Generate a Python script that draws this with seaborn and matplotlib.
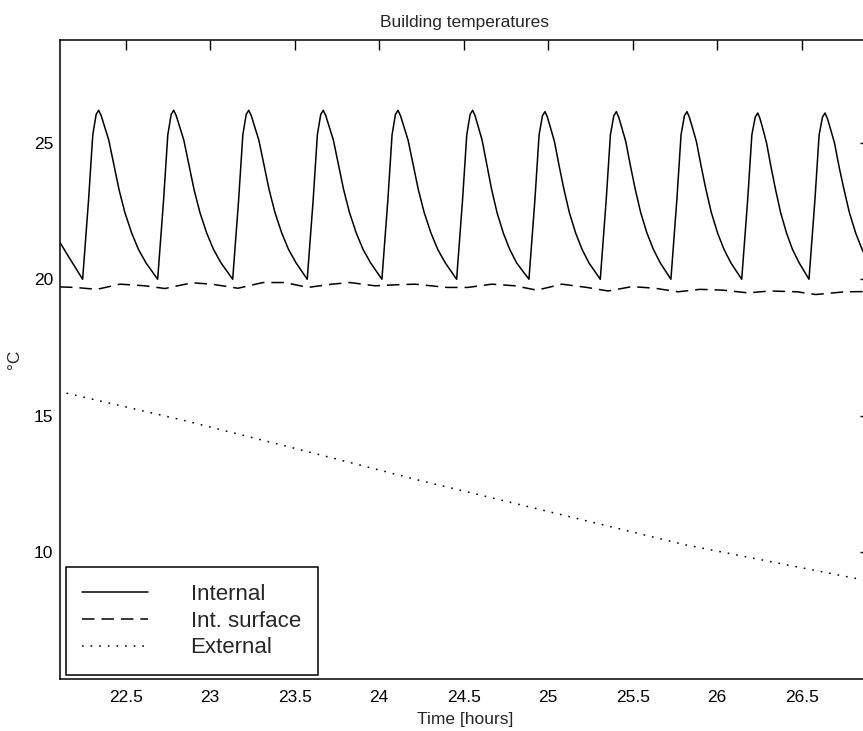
"""
Building temperatures: internal air, internal surface and external temperature
over time, redrawn from a MATLAB-style figure.
"""

import matplotlib

matplotlib.use("Agg")

import matplotlib.pyplot as plt
import pandas as pd
import seaborn as sns

# -----------------------------------------------------------------------------
# Data
# -----------------------------------------------------------------------------
internal_time = [
    22.111, 22.150, 22.190,
    22.245, 22.280, 22.305, 22.325, 22.340, 22.355, 22.375, 22.400, 22.430, 22.460, 22.495, 22.535, 22.575, 22.620,
    22.689, 22.724, 22.749, 22.769, 22.784, 22.799, 22.819, 22.844, 22.874, 22.904, 22.939, 22.979, 23.019, 23.064,
    23.133, 23.168, 23.193, 23.213, 23.228, 23.243, 23.263, 23.288, 23.318, 23.348, 23.383, 23.423, 23.463, 23.508,
    23.574, 23.609, 23.634, 23.654, 23.669, 23.684, 23.704, 23.729, 23.759, 23.789, 23.824, 23.864, 23.904, 23.949,
    24.016, 24.051, 24.076, 24.096, 24.111, 24.126, 24.146, 24.171, 24.201, 24.231, 24.266, 24.306, 24.346, 24.391,
    24.458, 24.493, 24.518, 24.538, 24.553, 24.567, 24.586, 24.609, 24.637, 24.665, 24.697, 24.734, 24.772, 24.813,
    24.886, 24.921, 24.946, 24.966, 24.981, 24.995, 25.014, 25.037, 25.065, 25.093, 25.125, 25.162, 25.200, 25.241,
    25.308, 25.343, 25.368, 25.388, 25.403, 25.417, 25.436, 25.459, 25.487, 25.515, 25.547, 25.584, 25.622, 25.663,
    25.726, 25.761, 25.786, 25.806, 25.821, 25.835, 25.854, 25.877, 25.905, 25.933, 25.965, 26.002, 26.040, 26.081,
    26.145, 26.180, 26.205, 26.225, 26.240, 26.253, 26.271, 26.292, 26.319, 26.345, 26.375, 26.410, 26.445, 26.485,
    26.543, 26.578, 26.603, 26.623, 26.638, 26.652, 26.671, 26.694, 26.722, 26.750, 26.782, 26.819, 26.857, 26.898,
]
internal_temp = [
    21.35, 20.95, 20.55,
    20.00, 22.90, 25.30, 26.05, 26.20, 26.00, 25.60, 25.10, 24.20, 23.30, 22.45, 21.70, 21.10, 20.60,
    20.00, 22.90, 25.30, 26.05, 26.20, 26.00, 25.60, 25.10, 24.20, 23.30, 22.45, 21.70, 21.10, 20.60,
    20.00, 22.90, 25.30, 26.05, 26.20, 26.00, 25.60, 25.10, 24.20, 23.30, 22.45, 21.70, 21.10, 20.60,
    20.00, 22.90, 25.30, 26.05, 26.20, 26.00, 25.60, 25.10, 24.20, 23.30, 22.45, 21.70, 21.10, 20.60,
    20.00, 22.90, 25.30, 26.05, 26.20, 26.00, 25.60, 25.10, 24.20, 23.30, 22.45, 21.70, 21.10, 20.60,
    20.00, 22.90, 25.30, 26.05, 26.20, 26.00, 25.60, 25.10, 24.20, 23.30, 22.45, 21.70, 21.10, 20.60,
    20.00, 22.90, 25.30, 26.00, 26.15, 25.95, 25.55, 25.05, 24.15, 23.30, 22.45, 21.70, 21.10, 20.60,
    20.00, 22.90, 25.30, 26.00, 26.15, 25.95, 25.55, 25.05, 24.15, 23.30, 22.45, 21.70, 21.10, 20.60,
    20.00, 22.90, 25.30, 26.00, 26.15, 25.95, 25.55, 25.05, 24.15, 23.30, 22.45, 21.70, 21.10, 20.60,
    20.00, 22.90, 25.30, 25.95, 26.10, 25.90, 25.50, 25.00, 24.10, 23.30, 22.45, 21.70, 21.10, 20.60,
    20.00, 22.90, 25.30, 25.95, 26.10, 25.90, 25.50, 25.00, 24.10, 23.30, 22.45, 21.70, 21.10, 20.60,
]

surface_time = [
    22.111, 22.200, 22.330, 22.466, 22.614, 22.732, 22.892, 23.010, 23.164, 23.312,
    23.442, 23.578, 23.720, 23.827, 23.975, 24.111, 24.212, 24.401, 24.525, 24.667,
    24.803, 24.933, 25.081, 25.229, 25.354, 25.496, 25.632, 25.768, 25.898, 26.034,
    26.182, 26.312, 26.472, 26.584, 26.756, 26.904,
]
surface_temp = [
    19.72, 19.70, 19.63, 19.82, 19.76, 19.66, 19.87, 19.82, 19.67, 19.88,
    19.88, 19.70, 19.82, 19.88, 19.76, 19.80, 19.82, 19.70, 19.70, 19.82,
    19.76, 19.60, 19.82, 19.70, 19.57, 19.73, 19.67, 19.54, 19.63, 19.60,
    19.50, 19.57, 19.54, 19.44, 19.54, 19.55,
]

external_time = [22.150, 22.838, 23.504, 24.232, 24.959, 25.807, 26.863, 26.904]
external_temp = [15.82, 14.83, 13.79, 12.63, 11.54, 10.26, 8.97, 8.92]

series_labels = ["Internal", "Int. surface", "External"]

x_ticks = [22.5, 23, 23.5, 24, 24.5, 25, 25.5, 26, 26.5]
x_tick_labels = ["22.5", "23", "23.5", "24", "24.5", "25", "25.5", "26", "26.5"]
y_ticks = [10, 15, 20, 25]
y_tick_labels = ["10", "15", "20", "25"]


# -----------------------------------------------------------------------------
# Plot
# -----------------------------------------------------------------------------
def main() -> None:
    sns.set_theme(style="white")
    plt.rcParams["font.family"] = ["Liberation Sans", "DejaVu Sans"]
    plt.rcParams["lines.scale_dashes"] = False

    df_internal = pd.DataFrame({"time": internal_time, "temp": internal_temp})
    df_surface = pd.DataFrame({"time": surface_time, "temp": surface_temp})
    df_external = pd.DataFrame({"time": external_time, "temp": external_temp})

    fig = plt.figure(figsize=(8.63, 7.31), dpi=100)
    ax = fig.add_axes([0.0695, 0.0707, 0.9386, 0.8746])

    sns.lineplot(data=df_internal, x="time", y="temp", ax=ax, color="black",
                 linewidth=1.1, linestyle="-", label=series_labels[0])
    sns.lineplot(data=df_surface, x="time", y="temp", ax=ax, color="black",
                 linewidth=1.1, linestyle=(0, (9, 5)), label=series_labels[1])
    sns.lineplot(data=df_external, x="time", y="temp", ax=ax, color="black",
                 linewidth=1.1, linestyle=(0, (1.2, 5)), label=series_labels[2])

    ax.set_xlim(22.111, 26.904)
    ax.set_ylim(5.32, 28.78)
    ax.set_xticks(x_ticks)
    ax.set_xticklabels(x_tick_labels)
    ax.set_yticks(y_ticks)
    ax.set_yticklabels(y_tick_labels)

    ax.tick_params(axis="both", direction="in", length=7.2, width=1.0,
                   colors="black", labelsize=12.5, top=True, right=True)
    ax.tick_params(axis="x", pad=8)
    ax.tick_params(axis="y", pad=5)

    for spine in ax.spines.values():
        spine.set_visible(True)
        spine.set_color("black")
        spine.set_linewidth(1.1)

    ax.set_title("Building temperatures", fontsize=12.5, pad=9)
    ax.set_xlabel("Time [hours]", fontsize=12.5, labelpad=5)
    ax.set_ylabel("°C", fontsize=12.5, labelpad=8)

    legend = ax.legend(
        loc="lower left",
        bbox_to_anchor=(0.007, 0.0067, 0.3115, 0.169),
        mode="expand",
        borderaxespad=0,
        fontsize=16,
        handlelength=2.97,
        handletextpad=1.9,
        borderpad=0.75,
        labelspacing=0.26,
        fancybox=False,
        frameon=True,
    )
    legend.get_frame().set_edgecolor("black")
    legend.get_frame().set_linewidth(1.1)
    legend.get_frame().set_facecolor("white")
    legend.get_frame().set_alpha(1.0)

    fig.savefig("out.png", dpi=100)
    plt.close(fig)


if __name__ == "__main__":
    main()
